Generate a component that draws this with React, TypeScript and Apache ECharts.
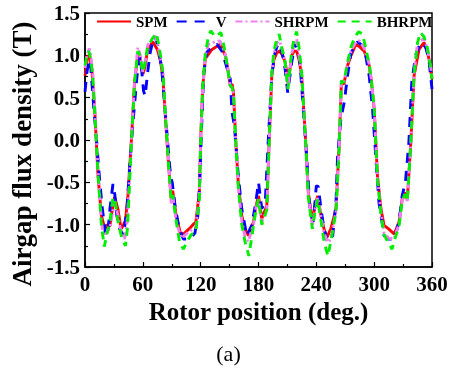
import React, { useEffect, useRef } from "react";
import * as echarts from "echarts";

const seriesNames = ["SPM", "V", "SHRPM", "BHRPM"];
const xTicks = [0, 60, 120, 180, 240, 300, 360];
const yTicks = [-1.5, -1.0, -0.5, 0.0, 0.5, 1.0, 1.5];

const spm: [number, number][] = [
  [0, 0.76], [3, 1.0], [5, 0.98], [7, 0.85], [10, 0.37], [13.5, -0.42], [17, -0.89], [20.5, -1.05], [23, -1.0], [25.7, -1.02],
  [28, -0.85], [30.7, -0.67], [34, -0.81], [37.5, -1.05], [40, -1.0], [42, -0.95], [44.5, -0.66], [48, -0.03], [51.4, 0.68], [54.8, 1.0],
  [56, 1.03], [58, 0.9], [60, 0.78], [62, 0.85], [65, 1.07], [70.3, 1.16], [75, 1.07], [78, 0.95], [80.7, 0.76], [84, 0.17],
  [87, -0.34], [89.5, -0.7], [91, -0.6], [94.5, -0.89], [99.6, -1.13], [104, -1.09], [108, -1.05], [112, -1.0], [115, -0.97], [118.6, -0.62],
  [120, 0.0], [122, 0.6], [124.8, 0.96], [131.7, 1.07], [140.4, 1.13], [145.5, 1.0], [148, 0.85], [150.7, 0.64], [152.5, 0.66], [154, 0.57],
  [156.5, -0.03], [159, -0.5], [162.6, -0.89], [166, -1.05], [169.6, -1.13], [172, -1.05], [174.8, -0.97], [177, -0.8], [180, -0.66], [183.4, -0.93],
  [186, -0.85], [188.6, -0.78], [191, -0.03], [193.8, 0.76], [196, 0.95], [199, 1.03], [202, 1.05], [205, 1.0], [207.6, 0.92], [211, 0.7],
  [214.5, 1.0], [217, 1.05], [219.6, 1.05], [222, 0.95], [224.8, 0.76], [229, -0.03], [231.7, -0.62], [235.9, -0.97], [238.6, -0.78], [241.4, -0.66],
  [244.8, -0.89], [248, -1.05], [251, -1.15], [255, -1.05], [258, -0.92], [260.4, -0.81], [263.8, -0.03], [266, 0.68], [268.6, 0.66], [272.4, 0.88],
  [276, 1.0], [281, 1.13], [285, 1.1], [289.7, 1.05], [294.8, 0.88], [297, 0.7], [300, 0.37], [303.4, -0.42], [307, -0.81], [310.3, -1.01],
  [315, -1.05], [320.7, -1.11], [323, -1.05], [325.8, -0.97], [329, -0.7], [331.7, -0.62], [334.4, -0.7], [338, -0.03], [341.4, 0.76], [346.5, 1.07],
  [351.7, 1.15], [355, 1.05], [357, 0.95], [360, 0.72],
];

const vType: [number, number][] = [
  [0, 0.57], [2, 0.8], [4, 0.95], [6, 0.85], [9, 0.4], [12, 0.0], [15, -0.45], [18, -0.81], [21.5, -1.13], [24, -1.05],
  [26, -0.8], [29, -0.52], [31, -0.65], [33, -0.89], [36, -1.05], [40, -1.13], [43.5, -0.81], [47, -0.2], [50.5, 0.3], [54, 0.76],
  [57, 0.98], [59, 0.8], [60.7, 0.58], [62.4, 0.52], [65, 0.8], [67.6, 1.03], [70, 1.15], [72.7, 1.22], [76, 1.1], [79.6, 0.84],
  [83, 0.37], [86.6, -0.14], [89, -0.45], [90.5, -0.5], [93.8, -0.81], [97, -1.0], [102, -1.17], [109, -1.17], [114, -1.1], [117, -0.9],
  [119, -0.5], [120.5, 0.0], [123, 0.76], [126, 1.03], [131, 1.1], [137, 1.13], [142, 1.05], [145.5, 0.92], [150.7, 0.72], [152.5, 0.33],
  [155, 0.17], [159, -0.42], [162.6, -0.81], [167.8, -1.13], [173, -1.01], [177, -0.75], [180, -0.5], [183.4, -0.81], [187, -0.74], [190, -0.03],
  [193.8, 0.76], [196.5, 1.0], [199, 1.1], [202, 1.14], [205, 1.0], [207.6, 0.84], [210.3, 0.56], [214.5, 0.92], [218, 1.15], [220.5, 1.1],
  [223, 0.92], [226.4, 0.37], [230, -0.2], [233.4, -0.81], [236.6, -0.97], [238.5, -0.75], [240, -0.54], [242, -0.55], [244.8, -0.81], [248, -1.05],
  [251.7, -1.21], [257, -1.13], [260.4, -0.74], [262, -0.2], [265.5, 0.25], [269, 0.45], [272.4, 0.76], [276, 1.03], [282.7, 1.16], [289.7, 1.1],
  [294.8, 0.76], [298.3, 0.37], [301.7, -0.2], [305, -0.74], [310.3, -1.13], [315, -1.17], [320.7, -1.17], [325.8, -0.97], [329, -0.66], [332.4, -0.5],
  [336, -0.03], [339, 0.68], [343, 1.0], [348, 1.15], [353.4, 1.1], [356.8, 0.95], [360, 0.6],
];

const shrpm: [number, number][] = [
  [0, 0.85], [2, 1.0], [4.5, 1.08], [6, 1.0], [8, 0.8], [10, 0.4], [13.5, -0.35], [17, -0.95], [19, -1.13], [22, -1.1],
  [25.5, -1.05], [28, -0.9], [30.7, -0.72], [34, -0.88], [37.5, -1.1], [41, -1.17], [43.5, -1.0], [45, -0.7], [48, -0.05], [51.4, 0.7],
  [54.8, 1.09], [57, 1.02], [60, 0.8], [62, 0.9], [65, 1.12], [70, 1.2], [72.7, 1.23], [76, 1.1], [78, 0.98], [81, 0.8],
  [84, 0.2], [87, -0.32], [89.5, -0.75], [91, -0.65], [94.5, -0.95], [99.6, -1.16], [104, -1.12], [108, -1.08], [112, -1.05], [115, -1.03],
  [118.6, -0.65], [120, 0.0], [122, 0.6], [124.8, 1.0], [128, 1.13], [135, 1.16], [140, 1.17], [145.5, 1.02], [148, 0.85], [150.7, 0.64],
  [152.5, 0.62], [154, 0.55], [156.5, -0.05], [159, -0.55], [162.6, -0.95], [166, -1.15], [169.6, -1.2], [172, -1.1], [174.8, -1.0], [177, -0.82],
  [180, -0.7], [183.4, -0.97], [186, -0.9], [188.6, -0.82], [191, -0.05], [193.8, 0.78], [196, 1.0], [199, 1.15], [202, 1.17], [205, 1.05],
  [207.6, 0.92], [210.5, 0.62], [214.5, 1.02], [217, 1.12], [219.6, 1.19], [222, 1.0], [224.8, 0.78], [229, -0.05], [231.7, -0.65], [235.9, -1.02],
  [238.6, -0.82], [241.4, -0.68], [244.8, -0.9], [248, -1.1], [252, -1.21], [255, -1.17], [258, -0.98], [260.4, -0.85], [263.8, -0.05], [266, 0.7],
  [268.6, 0.68], [272.4, 0.9], [276, 1.05], [281, 1.16], [285, 1.17], [289.7, 1.08], [294.8, 0.9], [297, 0.72], [300, 0.37], [303.4, -0.45],
  [307, -0.85], [310.3, -1.1], [315, -1.16], [320.7, -1.17], [323, -1.08], [325.8, -1.0], [329, -0.72], [331.7, -0.64], [334.4, -0.72], [338, -0.05],
  [341.4, 0.78], [345, 1.15], [349, 1.18], [351.7, 1.2], [355, 1.08], [357, 0.98], [360, 0.76],
];

const bhrpm: [number, number][] = [
  [0, 0.88], [2, 1.0], [4, 1.05], [6, 0.95], [8, 0.75], [10, 0.35], [13.5, -0.4], [17, -1.0], [20, -1.26], [23, -1.1],
  [26, -0.95], [29, -0.68], [31, -0.7], [34, -0.95], [38, -1.15], [42, -1.25], [44, -1.05], [45.5, -0.7], [48, -0.05], [51.4, 0.68],
  [54.8, 1.05], [57, 1.0], [60, 0.8], [62, 0.9], [65, 1.1], [70, 1.2], [74, 1.26], [77, 1.1], [79, 0.95], [81, 0.78],
  [84, 0.18], [87, -0.35], [89.5, -0.72], [91, -0.65], [94.5, -0.95], [98, -1.2], [102, -1.29], [106, -1.2], [110, -1.12], [115, -1.08],
  [118.6, -0.7], [120, -0.05], [122, 0.6], [124.8, 1.02], [128, 1.22], [130.5, 1.29], [135, 1.22], [141, 1.27], [144, 1.12], [146.5, 0.95],
  [150.7, 0.64], [152.5, 0.62], [154, 0.55], [156.5, -0.05], [159, -0.55], [162.6, -1.0], [166, -1.2], [170, -1.37], [173, -1.15], [175, -1.0],
  [177.5, -0.82], [180, -0.7], [183.4, -1.0], [186, -0.92], [188.6, -0.82], [191, -0.05], [193.8, 0.8], [196, 1.05], [199, 1.2], [201.5, 1.25],
  [204, 1.1], [207.6, 0.92], [210.5, 0.6], [214.5, 1.05], [217, 1.2], [219.6, 1.28], [222, 1.1], [224.8, 0.8], [229, -0.05], [231.7, -0.68],
  [235.9, -1.05], [238.6, -0.85], [241.4, -0.7], [244.8, -0.95], [248, -1.2], [252, -1.37], [255, -1.2], [258, -1.0], [260.4, -0.85], [263.8, -0.05],
  [266, 0.7], [268.6, 0.68], [272.4, 0.92], [276, 1.1], [280, 1.22], [284, 1.28], [288, 1.25], [291, 1.1], [294.8, 0.9], [297, 0.72],
  [300, 0.37], [303.4, -0.45], [307, -0.88], [310.3, -1.12], [314, -1.2], [318.6, -1.29], [322, -1.15], [325.8, -1.02], [329, -0.72], [331.7, -0.64],
  [334.4, -0.72], [338, -0.05], [341.4, 0.78], [345, 1.15], [348, 1.27], [351.7, 1.22], [355, 1.1], [357, 0.98], [360, 0.72],
];

const FONT = "Liberation Serif";

export default function App() {
  const ref = useRef<HTMLDivElement>(null);
  useEffect(() => {
    if (!ref.current) return;
    const chart = echarts.init(ref.current, undefined, { renderer: "svg" });
    const styles = [
      { color: "#ff0000", type: "solid" as any },
      { color: "#0000ff", type: [10, 8] as any },
      { color: "#f07ff0", type: [7, 3, 2, 3] as any },
      { color: "#00ee00", type: [8, 6] as any },
    ];
    const datas = [spm, vType, shrpm, bhrpm];
    chart.setOption({
      animation: false,
      textStyle: { fontFamily: FONT },
      grid: {
        left: 85, right: 25, top: 13, bottom: 105,
        show: true, borderColor: "#000", borderWidth: 1.5,
      },
      legend: {
        left: 96, top: 14, itemWidth: 34, itemHeight: 10, itemGap: 8,
        padding: 0,
        itemStyle: { opacity: 0 },
        textStyle: { fontFamily: FONT, fontWeight: "bold", fontSize: 15, color: "#000" },
        data: seriesNames,
      },
      xAxis: {
        type: "value", min: xTicks[0], max: xTicks[xTicks.length - 1], interval: 60,
        name: "Rotor position (deg.)", nameLocation: "middle", nameGap: 29,
        nameTextStyle: { fontFamily: FONT, fontWeight: "bold", fontSize: 25, color: "#000" },
        axisLine: { onZero: false, lineStyle: { color: "#000", width: 1.5 } },
        axisTick: { inside: true, length: 5, lineStyle: { color: "#000", width: 1.2 } },
        minorTick: { show: true, splitNumber: 2, length: 3, lineStyle: { color: "#000", width: 1.2 } },
        axisLabel: { margin: 6, fontFamily: FONT, fontWeight: "bold", fontSize: 21, color: "#000" },
        splitLine: { show: false },
      },
      yAxis: {
        type: "value", min: yTicks[0], max: yTicks[yTicks.length - 1], interval: 0.5,
        name: "Airgap flux density (T)", nameLocation: "middle", nameGap: 42,
        nameTextStyle: {
          fontFamily: FONT, fontWeight: "bold", fontSize: 27, color: "#000",
          padding: [0, 28, 0, 0],
        },
        axisLine: { onZero: false, lineStyle: { color: "#000", width: 1.5 } },
        axisTick: { inside: true, length: 5, lineStyle: { color: "#000", width: 1.2 } },
        minorTick: { show: true, splitNumber: 2, length: 3, lineStyle: { color: "#000", width: 1.2 } },
        axisLabel: {
          margin: 5, fontFamily: FONT, fontWeight: "bold", fontSize: 21, color: "#000",
          formatter: (v: number) => v.toFixed(1),
        },
        splitLine: { show: false },
      },
      graphic: [
        {
          type: "text", left: "center", top: 342,
          style: { text: "(a)", fontFamily: FONT, fontSize: 22, fill: "#000" },
        },
      ],
      series: seriesNames.map((n, i) => ({
        name: n, type: "line", data: datas[i], showSymbol: false, symbol: "none",
        lineStyle: { width: 2.9, color: styles[i].color, type: styles[i].type },
        itemStyle: { color: styles[i].color },
        z: 2 + i,
      })),
    });
    return () => chart.dispose();
  }, []);
  return <div ref={ref} style={{ position: "fixed", left: 0, top: 0, width: 457, height: 372 }} />;
}
